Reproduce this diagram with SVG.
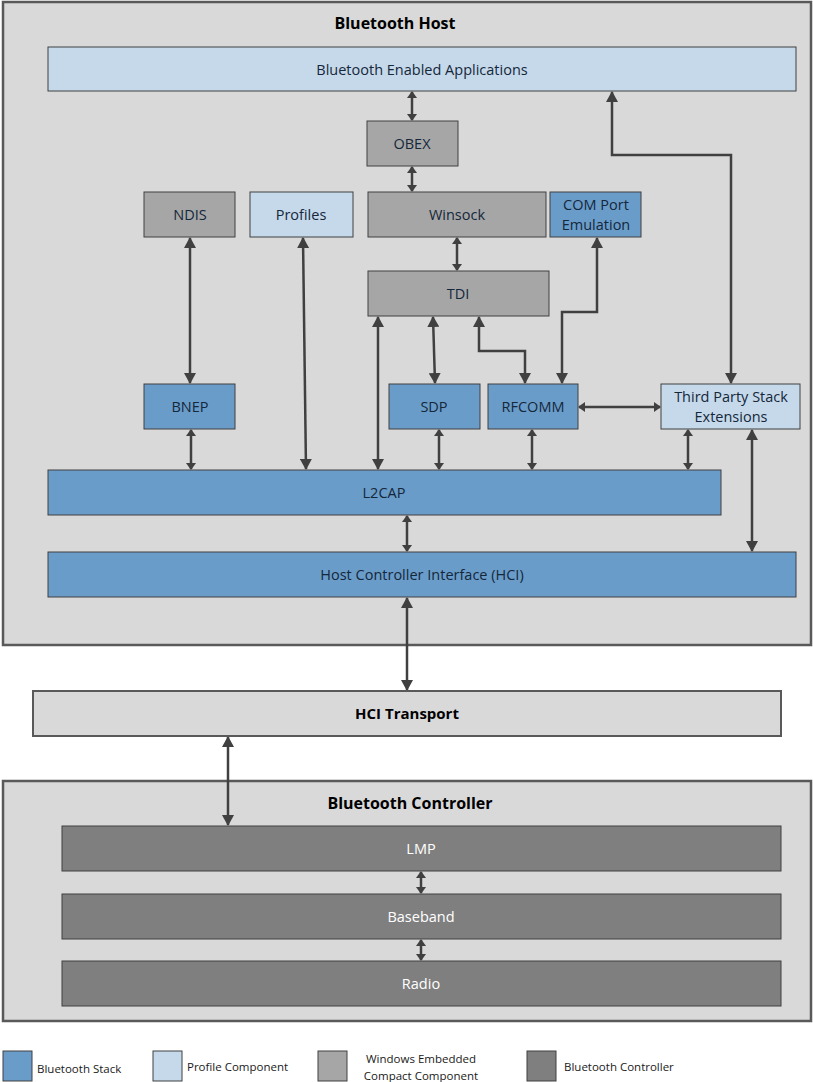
<svg xmlns="http://www.w3.org/2000/svg" width="813" height="1082" viewBox="0 0 813 1082">
<style>
text{font-family:"Open Sans","Liberation Sans",sans-serif;fill:#15273b;text-anchor:middle;dominant-baseline:central}
.n{stroke:#404040;stroke-width:1}
.stack{fill:#6a9cc9}
.prof{fill:#c5d9ea}
.win{fill:#a6a6a6}
.ctl{fill:#7f7f7f}
.t{font-size:14.5px}
.w{fill:#ffffff}
.title{font-size:16px;font-weight:bold;fill:#000}
.lg{font-size:11.5px;text-anchor:start;fill:#1a1a1a}
.c{fill:none;stroke:#404040;stroke-width:2.5}
.b{marker-start:url(#big);marker-end:url(#big)}
.s{marker-start:url(#sm);marker-end:url(#sm)}
</style>
<defs>
<marker id="big" viewBox="0 0 11 12" refX="10" refY="6" markerWidth="11" markerHeight="12" markerUnits="userSpaceOnUse" orient="auto-start-reverse"><path d="M0,0 L11,6 L0,12 z" fill="#404040"/></marker>
<marker id="sm" viewBox="0 0 7 10" refX="6" refY="5" markerWidth="7" markerHeight="10" markerUnits="userSpaceOnUse" orient="auto-start-reverse"><path d="M0,0 L7,5 L0,10 z" fill="#404040"/></marker>
</defs>
<rect width="813" height="1082" fill="#ffffff"/>
<g id="host">
<rect x="3" y="2" width="808" height="643" fill="#d9d9d9" stroke="#595959" stroke-width="2.5"/>
<text class="title" x="395" y="23">Bluetooth Host</text>
</g>
<g id="controllerbox">
<rect x="3" y="781" width="808" height="240" fill="#d9d9d9" stroke="#595959" stroke-width="2.5"/>
<text class="title" x="410" y="803">Bluetooth Controller</text>
</g>
<g id="connectors">
<line class="c s" x1="412" y1="92" x2="412" y2="120"/>
<line class="c s" x1="412" y1="167" x2="412" y2="191"/>
<line class="c s" x1="457" y1="238" x2="457" y2="270"/>
<line class="c b" x1="190" y1="238" x2="190" y2="383"/>
<line class="c b" x1="303" y1="238" x2="306" y2="469"/>
<line class="c b" x1="378" y1="317" x2="378" y2="469"/>
<line class="c b" x1="433" y1="317" x2="435" y2="383"/>
<polyline class="c b" points="479,317 479,351 525,351 525,383"/>
<polyline class="c b" points="597,238 597,312 562,312 562,383"/>
<polyline class="c b" points="612,92 612,155 731,155 731,383"/>
<line class="c s" x1="579" y1="407" x2="660" y2="407"/>
<line class="c s" x1="191" y1="430" x2="191" y2="469"/>
<line class="c s" x1="439" y1="430" x2="439" y2="469"/>
<line class="c s" x1="532" y1="430" x2="532" y2="469"/>
<line class="c s" x1="688" y1="430" x2="688" y2="469"/>
<line class="c b" x1="752" y1="430" x2="752" y2="551"/>
<line class="c s" x1="407" y1="516" x2="407" y2="551"/>
<line class="c b" x1="407" y1="598" x2="407" y2="690"/>
<line class="c b" x1="228" y1="737" x2="228" y2="825"/>
<line class="c s" x1="421" y1="872" x2="421" y2="893"/>
<line class="c s" x1="421" y1="940" x2="421" y2="960"/>
</g>
<g id="apps"><rect class="n prof" x="48" y="47" width="748" height="44"/><text class="t" x="422" y="69">Bluetooth Enabled Applications</text></g>
<g id="obex"><rect class="n win" x="367" y="121" width="91" height="45"/><text class="t" x="412" y="143">OBEX</text></g>
<g id="ndis"><rect class="n win" x="144" y="192" width="91" height="45"/><text class="t" x="190" y="214">NDIS</text></g>
<g id="profiles"><rect class="n prof" x="250" y="192" width="103" height="45"/><text class="t" x="301" y="214">Profiles</text></g>
<g id="winsock"><rect class="n win" x="368" y="192" width="178" height="45"/><text class="t" x="457" y="214">Winsock</text></g>
<g id="comport"><rect class="n stack" x="550" y="192" width="91" height="45"/><text class="t" x="596" y="204">COM Port</text><text class="t" x="596" y="224">Emulation</text></g>
<g id="tdi"><rect class="n win" x="368" y="271" width="181" height="45"/><text class="t" x="458" y="293">TDI</text></g>
<g id="bnep"><rect class="n stack" x="144" y="384" width="91" height="45"/><text class="t" x="190" y="406">BNEP</text></g>
<g id="sdp"><rect class="n stack" x="389" y="384" width="91" height="45"/><text class="t" x="434" y="406">SDP</text></g>
<g id="rfcomm"><rect class="n stack" x="488" y="384" width="90" height="45"/><text class="t" x="533" y="406">RFCOMM</text></g>
<g id="thirdparty"><rect class="n prof" x="661" y="384" width="139" height="45"/><text class="t" x="731" y="396">Third Party Stack</text><text class="t" x="731" y="416">Extensions</text></g>
<g id="l2cap"><rect class="n stack" x="48" y="470" width="673" height="45"/><text class="t" x="384" y="492">L2CAP</text></g>
<g id="hci"><rect class="n stack" x="48" y="552" width="748" height="45"/><text class="t" x="422" y="574">Host Controller Interface (HCI)</text></g>
<g id="hcitransport"><rect x="33" y="691" width="748" height="45" fill="#d9d9d9" stroke="#595959" stroke-width="2"/><text class="t" x="407" y="713" style="fill:#000;font-size:15px;font-weight:bold">HCI Transport</text></g>
<g id="lmp"><rect class="n ctl" x="62" y="826" width="719" height="45"/><text class="t w" x="421" y="848">LMP</text></g>
<g id="baseband"><rect class="n ctl" x="62" y="894" width="719" height="45"/><text class="t w" x="421" y="916">Baseband</text></g>
<g id="radio"><rect class="n ctl" x="62" y="961" width="719" height="45"/><text class="t w" x="421" y="983">Radio</text></g>
<g id="legend">
<rect class="n stack" x="3" y="1051" width="29" height="30"/><text class="lg" x="37" y="1068">Bluetooth Stack</text>
<rect class="n prof" x="153" y="1051" width="29" height="30"/><text class="lg" x="187" y="1066">Profile Component</text>
<rect class="n win" x="318" y="1051" width="29" height="30"/><text class="lg" x="421" y="1058" style="text-anchor:middle">Windows Embedded</text><text class="lg" x="421" y="1075" style="text-anchor:middle">Compact Component</text>
<rect class="n ctl" x="527" y="1051" width="29" height="30"/><text class="lg" x="564" y="1066">Bluetooth Controller</text>
</g>
</svg>
